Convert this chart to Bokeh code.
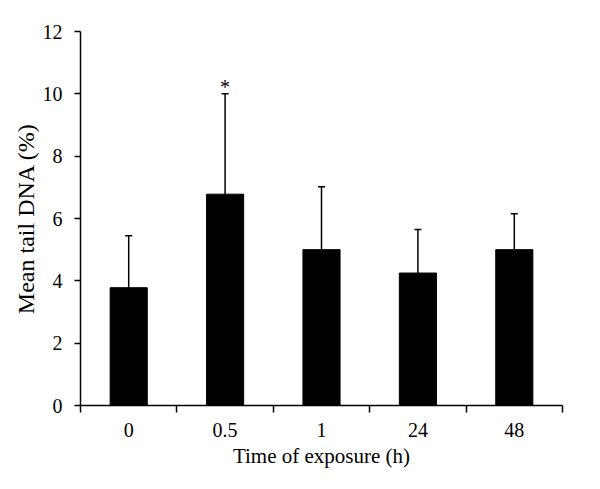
from bokeh.plotting import figure
from bokeh.models import Range1d, FixedTicker, ColumnDataSource, Whisker, TeeHead
from bokeh.core.properties import value
from bokeh.embed import file_html
from bokeh.resources import INLINE

categories = ["0", "0.5", "1", "24", "48"]
means = [3.78, 6.78, 5.0, 4.25, 5.0]
errors = [1.67, 3.22, 2.02, 1.4, 1.15]
star_labels = ["", "*", "", "", ""]
y_ticks = [0, 2, 4, 6, 8, 10, 12]

FONT = "Liberation Serif"

xs = [i + 0.5 for i in range(len(categories))]
uppers = [m + e for m, e in zip(means, errors)]
src = ColumnDataSource(dict(x=xs, top=means, upper=uppers, star=star_labels))

p = figure(width=600, height=489, output_backend="svg", toolbar_location=None,
           x_range=Range1d(0, len(categories)), y_range=Range1d(0, 12),
           min_border_left=80, min_border_right=38, min_border_top=31, min_border_bottom=84)
p.outline_line_color = None
p.xgrid.visible = False
p.ygrid.visible = False
p.background_fill_color = "white"
p.border_fill_color = "white"

p.vbar(x="x", top="top", width=0.385, bottom=0, source=src, fill_color="black", line_color="black")

w = Whisker(base="x", upper="upper", lower="top", source=src, dimension="height",
            line_color="black", line_width=1.5,
            upper_head=TeeHead(size=7, line_color="black", line_width=1.5), lower_head=None)
p.add_layout(w)

p.text(x="x", y="upper", text="star", source=src, text_align="center", text_baseline="bottom",
       text_font=value(FONT), text_font_size="20px", y_offset=4, text_color="black")

# x axis: labels at centres, ticks at category boundaries
p.xaxis.ticker = FixedTicker(ticks=xs, minor_ticks=list(range(len(categories) + 1)))
p.xaxis.major_label_overrides = {x: c for x, c in zip(xs, categories)}
p.xaxis.major_tick_out = 0
p.xaxis.major_tick_in = 0
p.xaxis.minor_tick_out = 7
p.xaxis.minor_tick_in = 0
p.xaxis.axis_label = "Time of exposure (h)"

p.yaxis.ticker = FixedTicker(ticks=y_ticks, minor_ticks=[])
p.yaxis.major_tick_out = 6
p.yaxis.major_tick_in = 0
p.yaxis.minor_tick_out = 0
p.yaxis.axis_label = "Mean tail DNA (%)"

for ax in (p.xaxis[0], p.yaxis[0]):
    ax.axis_line_color = "black"
    ax.axis_line_width = 1.5
    ax.major_tick_line_color = "black"
    ax.major_tick_line_width = 1.5
    ax.minor_tick_line_color = "black"
    ax.minor_tick_line_width = 1.5
    ax.major_label_text_font = FONT
    ax.major_label_text_font_size = "20px"
    ax.major_label_text_color = "black"
    ax.axis_label_text_font = FONT
    ax.axis_label_text_font_size = "21px"
    ax.axis_label_text_font_style = "normal"
    ax.axis_label_text_color = "black"

p.yaxis.axis_label_text_font_size = "24px"
p.xaxis.major_label_standoff = 10
p.xaxis.axis_label_standoff = 4
p.yaxis.major_label_standoff = 12
p.yaxis.axis_label_standoff = 1

open("out.html", "w").write(file_html(p, INLINE))
